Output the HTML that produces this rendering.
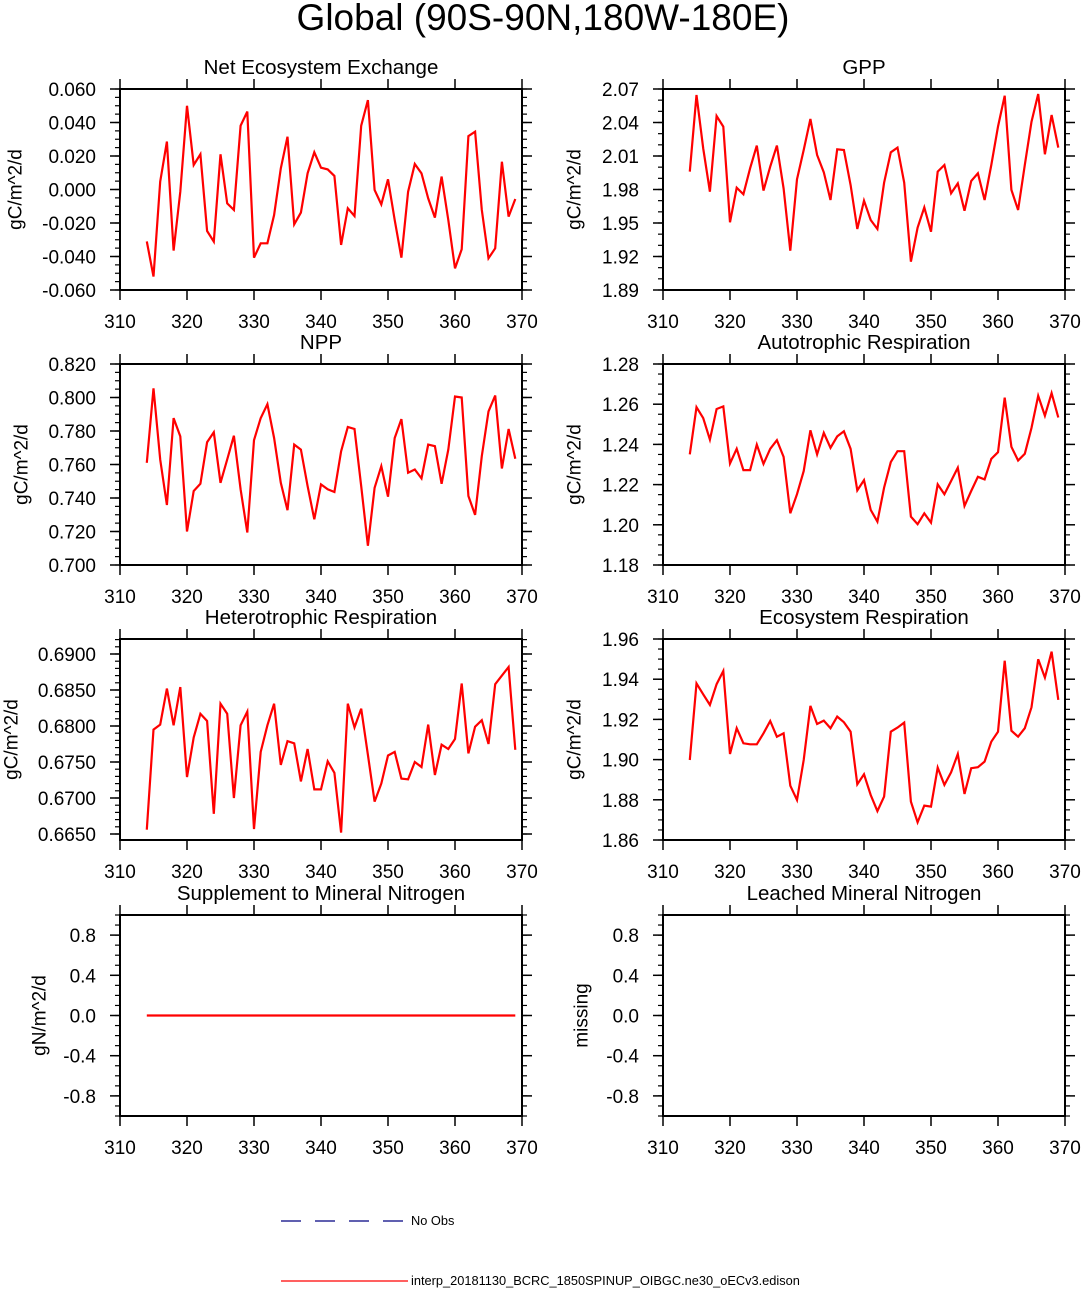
<!DOCTYPE html>
<html><head><meta charset="utf-8"><style>
html,body{margin:0;padding:0;background:#fff;}
svg{display:block;font-family:"Liberation Sans",Arial,sans-serif;}
</style></head><body>
<svg id="c" width="1081" height="1289" viewBox="0 0 1081 1289" xmlns="http://www.w3.org/2000/svg">
<text x="543" y="30" font-size="37" text-anchor="middle">Global (90S-90N,180W-180E)</text>
<g>
<line x1="281" y1="1221" x2="409" y2="1221" stroke="#000080" stroke-width="1.3" stroke-dasharray="20,14"/>
<text x="411" y="1225" font-size="12.8">No Obs</text>
<line x1="281" y1="1281" x2="408" y2="1281" stroke="#ff0000" stroke-width="1.3"/>
<text x="411" y="1285" font-size="12.8">interp_20181130_BCRC_1850SPINUP_OIBGC.ne30_oECv3.edison</text>
</g>
</svg>
<script>
const years = [];
for (let y = 314; y <= 369; y++) years.push(y);
const neeValues = [-0.031,-0.052,0.0047,0.0286,-0.0365,-0.0013,0.050,0.0146,0.021,-0.0248,-0.0311,0.021,-0.0083,-0.0122,0.0381,0.0465,-0.0407,-0.0321,-0.0321,-0.0152,0.0126,0.0315,-0.0208,-0.0138,0.0097,0.0222,0.0130,0.0120,0.0081,-0.0331,-0.0112,-0.0158,0.0381,0.0534,-0.0003,-0.0089,0.0061,-0.0182,-0.0407,-0.0013,0.0152,0.0097,-0.0053,-0.0168,0.0077,-0.0182,-0.0471,-0.0357,0.0319,0.0345,-0.0122,-0.0411,-0.0351,0.0166,-0.0162,-0.0057];
const gppValues = [1.996,2.0646,2.0169,1.978,2.0458,2.0363,1.9506,1.9816,1.9757,1.999,2.0193,1.979,2.0004,2.0193,1.981,1.9252,1.9891,2.0154,2.0431,2.0109,1.9954,1.9706,2.016,2.0154,1.984,1.9446,1.97,1.9527,1.9446,1.9861,2.0133,2.0175,1.9861,1.9154,1.9458,1.964,1.9422,1.996,2.0019,1.9766,1.9855,1.961,1.9876,1.9945,1.9706,2.0019,2.0363,2.064,1.9796,1.9616,2.0019,2.0407,2.0655,2.0115,2.0467,2.0175];
const nppValues = [0.761,0.8055,0.763,0.7358,0.7877,0.7768,0.72,0.7442,0.7485,0.7733,0.7792,0.7491,0.763,0.7772,0.7452,0.7194,0.7745,0.7877,0.796,0.7758,0.7491,0.7327,0.7719,0.7689,0.7471,0.7273,0.7481,0.7452,0.7436,0.7679,0.7824,0.7812,0.7471,0.7115,0.7461,0.759,0.7408,0.7758,0.7871,0.7551,0.757,0.7517,0.7719,0.7709,0.7485,0.7689,0.8006,0.80,0.7412,0.7299,0.765,0.7917,0.8012,0.7576,0.7812,0.7634];
const arValues = [1.2350,1.2585,1.2531,1.2424,1.2576,1.2589,1.2305,1.2378,1.2272,1.2272,1.2399,1.2303,1.2378,1.2421,1.2338,1.2057,1.2152,1.2267,1.247,1.235,1.2457,1.2383,1.244,1.2465,1.2378,1.2171,1.2222,1.2074,1.2016,1.2185,1.2312,1.2366,1.2366,1.2041,1.2003,1.2057,1.2011,1.2201,1.2152,1.2218,1.2284,1.2094,1.2168,1.2239,1.2226,1.2328,1.2361,1.2633,1.2388,1.232,1.2353,1.2482,1.2642,1.2543,1.2655,1.2534];
const hrValues = [0.6656,0.6795,0.6802,0.6852,0.6801,0.6854,0.6729,0.6784,0.6817,0.6807,0.6678,0.6831,0.6817,0.6700,0.6801,0.6820,0.6657,0.6764,0.6801,0.6831,0.6746,0.6779,0.6776,0.6723,0.6768,0.6712,0.6712,0.6751,0.6735,0.6652,0.6831,0.6798,0.6824,0.6760,0.6695,0.6720,0.6759,0.6764,0.6727,0.6726,0.6750,0.6743,0.6802,0.6732,0.6774,0.6768,0.6782,0.6859,0.6762,0.6799,0.6808,0.6775,0.6858,0.6870,0.6882,0.6767];
const erValues = [1.8998,1.9379,1.9325,1.9272,1.9375,1.9441,1.9028,1.9156,1.9081,1.9076,1.9076,1.9131,1.9192,1.9114,1.9131,1.8870,1.8799,1.8998,1.9267,1.9177,1.9194,1.9156,1.9214,1.9186,1.9139,1.8877,1.8927,1.8824,1.8744,1.8816,1.9139,1.9159,1.9184,1.8791,1.8688,1.8771,1.8766,1.8960,1.8874,1.8937,1.9028,1.8829,1.8957,1.8962,1.8990,1.9089,1.9139,1.9492,1.9144,1.9114,1.9156,1.9260,1.9499,1.9408,1.9537,1.9297];
const supValues = [0,0,0,0,0,0,0,0,0,0,0,0,0,0,0,0,0,0,0,0,0,0,0,0,0,0,0,0,0,0,0,0,0,0,0,0,0,0,0,0,0,0,0,0,0,0,0,0,0,0,0,0,0,0,0,0];
const leachValues = [];
const xTicks = [310,320,330,340,350,360,370];
const neeTicks = ["0.060","0.040","0.020","0.000","-0.020","-0.040","-0.060"];
const gppTicks = ["2.07","2.04","2.01","1.98","1.95","1.92","1.89"];
const nppTicks = ["0.820","0.800","0.780","0.760","0.740","0.720","0.700"];
const arTicks = ["1.28","1.26","1.24","1.22","1.20","1.18"];
const hrTicks = ["0.6900","0.6850","0.6800","0.6750","0.6700","0.6650"];
const erTicks = ["1.96","1.94","1.92","1.90","1.88","1.86"];
const nTicks = ["0.8","0.4","0.0","-0.4","-0.8"];

const NS = "http://www.w3.org/2000/svg";
const svg = document.getElementById('c');
function mk(tag, attrs, parent) {
  const e = document.createElementNS(NS, tag);
  for (const k in attrs) e.setAttribute(k, attrs[k]);
  (parent || svg).appendChild(e);
  return e;
}
const panels = [
  {key:'nee', title:'Net Ecosystem Exchange', yl:'gC/m^2/d', x0:120, y0:89, ymin:-0.06, ymax:0.06, minor:0.005, ticks:neeTicks, vals:neeValues, ylx:16},
  {key:'gpp', title:'GPP', yl:'gC/m^2/d', x0:663, y0:89, ymin:1.89, ymax:2.07, minor:0.01, ticks:gppTicks, vals:gppValues, ylx:575},
  {key:'npp', title:'NPP', yl:'gC/m^2/d', x0:120, y0:364, ymin:0.70, ymax:0.82, minor:0.005, ticks:nppTicks, vals:nppValues, ylx:22},
  {key:'ar', title:'Autotrophic Respiration', yl:'gC/m^2/d', x0:663, y0:364, ymin:1.18, ymax:1.28, minor:0.005, ticks:arTicks, vals:arValues, ylx:575},
  {key:'hr', title:'Heterotrophic Respiration', yl:'gC/m^2/d', x0:120, y0:639, ymin:0.664167, ymax:0.692083, minor:0.001, ticks:hrTicks, vals:hrValues, ylx:12},
  {key:'er', title:'Ecosystem Respiration', yl:'gC/m^2/d', x0:663, y0:639, ymin:1.86, ymax:1.96, minor:0.005, ticks:erTicks, vals:erValues, ylx:575},
  {key:'sup', title:'Supplement to Mineral Nitrogen', yl:'gN/m^2/d', x0:120, y0:915, ymin:-1, ymax:1, minor:0.1, ticks:nTicks, vals:supValues, ylx:40},
  {key:'leach', title:'Leached Mineral Nitrogen', yl:'missing', x0:663, y0:915, ymin:-1, ymax:1, minor:0.1, ticks:nTicks, vals:leachValues, ylx:582}
];
const W = 402, H = 201;
panels.forEach(p => {
  const g = mk('g', {});
  
  
  const xs = v => p.x0 + (v - 310) / 60 * W;
  const ys = v => p.y0 + (p.ymax - v) / (p.ymax - p.ymin) * H;
  const t = mk('text', {x: p.x0 + W/2, y: p.y0 - 15, 'font-size': 20.5, 'text-anchor': 'middle'}, g);
  t.textContent = p.title;
  
  
  const yl = mk('text', {x: p.ylx, y: p.y0 + H/2, 'font-size': 19, 'text-anchor': 'middle', 'dominant-baseline': 'central', transform: `rotate(-90 ${p.ylx} ${p.y0 + H/2})`}, g);
  yl.textContent = p.yl;
  
  
  const start = Math.ceil(p.ymin / p.minor - 1e-6);
  const end = Math.floor(p.ymax / p.minor + 1e-6);
  for (let i = start; i <= end; i++) {
    const yy = ys(i * p.minor);
    mk('line', {x1: p.x0 - 5, x2: p.x0, y1: yy, y2: yy, stroke: '#000', 'stroke-width': 1.2}, g);
    mk('line', {x1: p.x0 + W, x2: p.x0 + W + 5, y1: yy, y2: yy, stroke: '#000', 'stroke-width': 1.2}, g);
  }
  p.ticks.forEach(lbl => {
    const yy = ys(parseFloat(lbl));
    mk('line', {x1: p.x0 - 10, x2: p.x0, y1: yy, y2: yy, stroke: '#000', 'stroke-width': 1.5}, g);
    mk('line', {x1: p.x0 + W, x2: p.x0 + W + 10, y1: yy, y2: yy, stroke: '#000', 'stroke-width': 1.5}, g);
    const tl = mk('text', {x: p.x0 - 24, y: yy + 7, 'font-size': 19, 'text-anchor': 'end'}, g);
    tl.textContent = lbl;
    
    
  });
  xTicks.forEach(v => {
    const xx = xs(v);
    mk('line', {x1: xx, x2: xx, y1: p.y0 + H, y2: p.y0 + H + 10, stroke: '#000', 'stroke-width': 1.5}, g);
    mk('line', {x1: xx, x2: xx, y1: p.y0 - 10, y2: p.y0, stroke: '#000', 'stroke-width': 1.5}, g);
    const tl = mk('text', {x: xx, y: p.y0 + H + 38, 'font-size': 19, 'text-anchor': 'middle'}, g);
    tl.textContent = v;
    
    
  });
  const fr = mk('rect', {x: p.x0, y: p.y0, width: W, height: H, fill: 'none', stroke: '#000', 'stroke-width': 2}, g);
  
  
  if (p.vals.length) {
    const pts = p.vals.map((v, i) => xs(years[i]).toFixed(1) + ',' + ys(v).toFixed(1)).join(' ');
    const pl = mk('polyline', {points: pts, fill: 'none', stroke: '#ff0000', 'stroke-width': 2.2, 'stroke-linejoin': 'miter'}, g);
    
    
  }
});
</script>
</body></html>
